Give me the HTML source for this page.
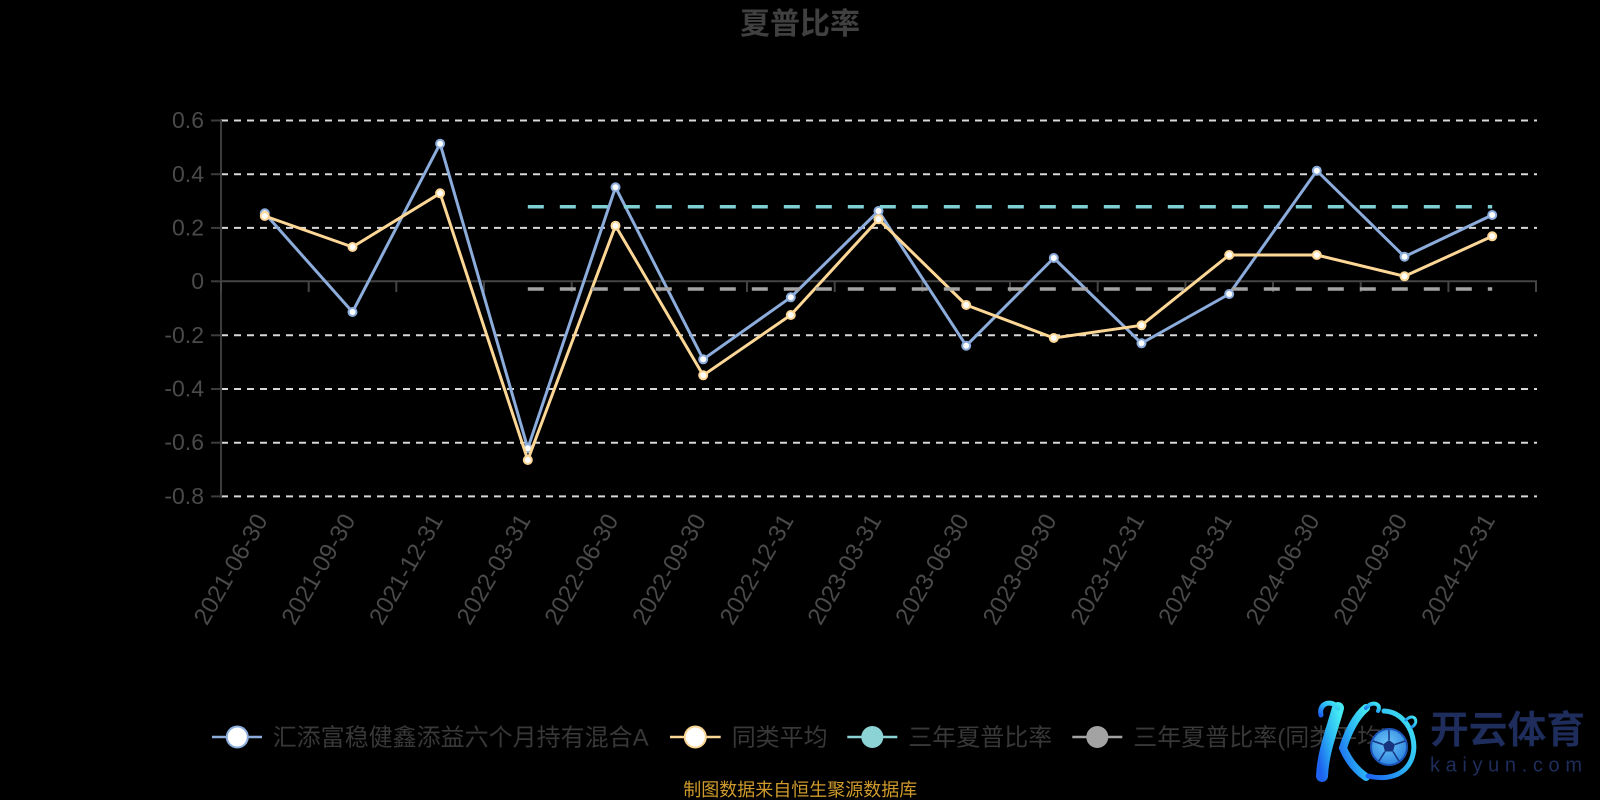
<!DOCTYPE html>
<html>
<head>
<meta charset="utf-8">
<style>
  html, body { margin: 0; padding: 0; background: #000; }
  body { width: 1600px; height: 800px; overflow: hidden; }
  svg { display: block; }
  text { font-family: "Liberation Sans", "Noto Sans CJK SC", sans-serif; }
</style>
</head>
<body>
<svg width="1600" height="800" viewBox="0 0 1600 800" xmlns="http://www.w3.org/2000/svg">
  <defs>
    <linearGradient id="kg" x1="1" y1="0" x2="0" y2="1">
      <stop offset="0" stop-color="#45eaf2"/>
      <stop offset="0.5" stop-color="#2ab4f4"/>
      <stop offset="1" stop-color="#1d62f0"/>
    </linearGradient>
    <radialGradient id="ballg" cx="0.45" cy="0.4" r="0.6">
      <stop offset="0" stop-color="#6cc6f7"/>
      <stop offset="1" stop-color="#2f86e0"/>
    </radialGradient>
  </defs>
  <rect width="1600" height="800" fill="#000"/>

  <!-- Title -->
  <text x="800" y="34" text-anchor="middle" font-size="30" font-weight="bold" fill="#404040">夏普比率</text>

  <!-- Grid lines -->
  <g stroke="#d8d8d8" stroke-width="2" stroke-dasharray="7 6">
    <line x1="221" y1="120.5" x2="1537" y2="120.5"/>
    <line x1="221" y1="174.2" x2="1537" y2="174.2"/>
    <line x1="221" y1="227.9" x2="1537" y2="227.9"/>
    <line x1="221" y1="335.3" x2="1537" y2="335.3"/>
    <line x1="221" y1="389" x2="1537" y2="389"/>
    <line x1="221" y1="442.7" x2="1537" y2="442.7"/>
    <line x1="221" y1="496.4" x2="1537" y2="496.4"/>
  </g>

  <!-- Y axis -->
  <g stroke="#3c3c3c" stroke-width="2">
    <line x1="221" y1="120" x2="221" y2="497"/>
    <line x1="211" y1="120.5" x2="221" y2="120.5"/>
    <line x1="211" y1="174.2" x2="221" y2="174.2"/>
    <line x1="211" y1="227.9" x2="221" y2="227.9"/>
    <line x1="211" y1="281.3" x2="221" y2="281.3"/>
    <line x1="211" y1="335.3" x2="221" y2="335.3"/>
    <line x1="211" y1="389" x2="221" y2="389"/>
    <line x1="211" y1="442.7" x2="221" y2="442.7"/>
    <line x1="211" y1="496.4" x2="221" y2="496.4"/>
  </g>
  <g font-size="23" fill="#4a4a4a" text-anchor="end">
    <text x="204" y="128">0.6</text>
    <text x="204" y="182">0.4</text>
    <text x="204" y="235.5">0.2</text>
    <text x="204" y="289">0</text>
    <text x="204" y="343">-0.2</text>
    <text x="204" y="396.5">-0.4</text>
    <text x="204" y="450">-0.6</text>
    <text x="204" y="504">-0.8</text>
  </g>

  <!-- X axis (at zero) -->
  <g stroke="#444" stroke-width="2">
    <line x1="221" y1="281.3" x2="1537" y2="281.3"/>
    <line x1="221" y1="281" x2="221" y2="292"/>
    <line x1="308.7" y1="281" x2="308.7" y2="292"/>
    <line x1="396.3" y1="281" x2="396.3" y2="292"/>
    <line x1="484" y1="281" x2="484" y2="292"/>
    <line x1="571.7" y1="281" x2="571.7" y2="292"/>
    <line x1="659.4" y1="281" x2="659.4" y2="292"/>
    <line x1="747" y1="281" x2="747" y2="292"/>
    <line x1="834.7" y1="281" x2="834.7" y2="292"/>
    <line x1="922.4" y1="281" x2="922.4" y2="292"/>
    <line x1="1010" y1="281" x2="1010" y2="292"/>
    <line x1="1097.7" y1="281" x2="1097.7" y2="292"/>
    <line x1="1185.4" y1="281" x2="1185.4" y2="292"/>
    <line x1="1273" y1="281" x2="1273" y2="292"/>
    <line x1="1360.7" y1="281" x2="1360.7" y2="292"/>
    <line x1="1448.4" y1="281" x2="1448.4" y2="292"/>
    <line x1="1536" y1="281" x2="1536" y2="292"/>
  </g>

  <!-- X labels -->
  <g font-size="24" fill="#4a4a4a" text-anchor="end">
    <text transform="translate(268.3,520) rotate(-60)">2021-06-30</text>
    <text transform="translate(356,520) rotate(-60)">2021-09-30</text>
    <text transform="translate(443.6,520) rotate(-60)">2021-12-31</text>
    <text transform="translate(531.3,520) rotate(-60)">2022-03-31</text>
    <text transform="translate(619,520) rotate(-60)">2022-06-30</text>
    <text transform="translate(706.7,520) rotate(-60)">2022-09-30</text>
    <text transform="translate(794.3,520) rotate(-60)">2022-12-31</text>
    <text transform="translate(882,520) rotate(-60)">2023-03-31</text>
    <text transform="translate(969.7,520) rotate(-60)">2023-06-30</text>
    <text transform="translate(1057.3,520) rotate(-60)">2023-09-30</text>
    <text transform="translate(1145,520) rotate(-60)">2023-12-31</text>
    <text transform="translate(1232.7,520) rotate(-60)">2024-03-31</text>
    <text transform="translate(1320.3,520) rotate(-60)">2024-06-30</text>
    <text transform="translate(1408,520) rotate(-60)">2024-09-30</text>
    <text transform="translate(1495.7,520) rotate(-60)">2024-12-31</text>
  </g>

  <!-- Fund series (blue) -->
  <polyline fill="none" stroke="#8cacdc" stroke-width="3" stroke-linejoin="round"
    points="264.8,213.3 352.5,312 440.1,143.7 527.8,448.3 615.5,187.3 703.2,359.3 790.8,297.3 878.5,211 966.2,345.7 1053.8,258 1141.5,343.3 1229.2,294 1316.8,170.7 1404.5,256.7 1492.2,215"/>
  <g fill="#fff" stroke="#8cacdc" stroke-width="2">
    <circle cx="264.8" cy="213.3" r="4"/><circle cx="352.5" cy="312" r="4"/><circle cx="440.1" cy="143.7" r="4"/>
    <circle cx="527.8" cy="448.3" r="4"/><circle cx="615.5" cy="187.3" r="4"/><circle cx="703.2" cy="359.3" r="4"/>
    <circle cx="790.8" cy="297.3" r="4"/><circle cx="878.5" cy="211" r="4"/><circle cx="966.2" cy="345.7" r="4"/>
    <circle cx="1053.8" cy="258" r="4"/><circle cx="1141.5" cy="343.3" r="4"/><circle cx="1229.2" cy="294" r="4"/>
    <circle cx="1316.8" cy="170.7" r="4"/><circle cx="1404.5" cy="256.7" r="4"/><circle cx="1492.2" cy="215" r="4"/>
  </g>

  <!-- Category average (orange) -->
  <polyline fill="none" stroke="#fdd796" stroke-width="3" stroke-linejoin="round"
    points="264.8,216 352.5,247 440.1,193.3 527.8,460 615.5,225.7 703.2,375.3 790.8,315 878.5,219.3 966.2,305 1053.8,338 1141.5,325.3 1229.2,255 1316.8,255 1404.5,276.3 1492.2,236.3"/>
  <g fill="#fff" stroke="#fdd796" stroke-width="2">
    <circle cx="264.8" cy="216" r="4"/><circle cx="352.5" cy="247" r="4"/><circle cx="440.1" cy="193.3" r="4"/>
    <circle cx="527.8" cy="460" r="4"/><circle cx="615.5" cy="225.7" r="4"/><circle cx="703.2" cy="375.3" r="4"/>
    <circle cx="790.8" cy="315" r="4"/><circle cx="878.5" cy="219.3" r="4"/><circle cx="966.2" cy="305" r="4"/>
    <circle cx="1053.8" cy="338" r="4"/><circle cx="1141.5" cy="325.3" r="4"/><circle cx="1229.2" cy="255" r="4"/>
    <circle cx="1316.8" cy="255" r="4"/><circle cx="1404.5" cy="276.3" r="4"/><circle cx="1492.2" cy="236.3" r="4"/>
  </g>

  <!-- Three-year Sharpe dashed lines -->
  <line x1="527.8" y1="206.7" x2="1492.2" y2="206.7" stroke="#7ecfd4" stroke-width="3.5" stroke-dasharray="16 16"/>
  <line x1="527.8" y1="289" x2="1492.2" y2="289" stroke="#a3a3a3" stroke-width="3.5" stroke-dasharray="16 16"/>

  <!-- Legend -->
  <g font-size="24" fill="#383838">
    <line x1="212" y1="737" x2="262" y2="737" stroke="#8cacdc" stroke-width="2.5"/>
    <circle cx="237.3" cy="737" r="10.5" fill="#fff" stroke="#8cacdc" stroke-width="2"/>
    <text x="272.7" y="745.5">汇添富稳健鑫添益六个月持有混合A</text>

    <line x1="670" y1="737" x2="720.7" y2="737" stroke="#fdd796" stroke-width="2.5"/>
    <circle cx="695.3" cy="737" r="10.5" fill="#fff" stroke="#fdd796" stroke-width="2"/>
    <text x="731.7" y="745.5">同类平均</text>

    <line x1="847.3" y1="737" x2="897.3" y2="737" stroke="#8cd3d6" stroke-width="2.5"/>
    <circle cx="872.3" cy="737" r="11" fill="#8cd3d6"/>
    <text x="908.3" y="745.5">三年夏普比率</text>

    <line x1="1072.3" y1="737" x2="1122.3" y2="737" stroke="#a3a3a3" stroke-width="2.5"/>
    <circle cx="1097.3" cy="737" r="11" fill="#a3a3a3"/>
    <text x="1133.3" y="745.5">三年夏普比率(同类平均)</text>
  </g>

  <!-- Source -->
  <text x="683.3" y="796" font-size="18" fill="#cf9a2c">制图数据来自恒生聚源数据库</text>

  <!-- Logo -->
  <g>
    <g fill="none" stroke="url(#kg)" stroke-linecap="round">
      <path d="M1338,708 C1332,730 1323,752 1322,776" stroke-width="12"/>
      <path d="M1338,708 C1332,699 1318,703 1321,715" stroke-width="5"/>
      <path d="M1366,708 C1356,716 1348,732 1343,748 C1348,760 1356,770 1366,777" stroke-width="8"/>
      <path d="M1366,708 C1372,700 1382,704 1378,711" stroke-width="4"/>
      <path d="M1384,711 C1414,712 1426,760 1398,774 C1388,779 1376,778 1368,776" stroke-width="5"/>
      <path d="M1406,720 C1414,712 1420,722 1412,727" stroke-width="3"/>
    </g>
    <circle cx="1389" cy="747" r="18" fill="url(#ballg)" stroke="#1c55b8" stroke-width="2"/>
    <polygon points="1389,740 1395,744.5 1393,751.5 1385,751.5 1383,744.5" fill="#17347e"/>
    <g stroke="#17347e" stroke-width="1.5" fill="none">
      <line x1="1389" y1="740" x2="1389" y2="730"/>
      <line x1="1395" y1="744.5" x2="1405" y2="741"/>
      <line x1="1393" y1="751.5" x2="1399" y2="761"/>
      <line x1="1385" y1="751.5" x2="1379" y2="761"/>
      <line x1="1383" y1="744.5" x2="1373" y2="741"/>
    </g>
    <text x="1430" y="743" font-size="38" font-weight="bold" fill="#1e2d5c" textLength="155" lengthAdjust="spacingAndGlyphs">开云体育</text>
    <text x="1430" y="771.5" font-size="20" fill="#1e2d5c" textLength="152" lengthAdjust="spacing">kaiyun.com</text>
  </g>
</svg>
</body>
</html>
